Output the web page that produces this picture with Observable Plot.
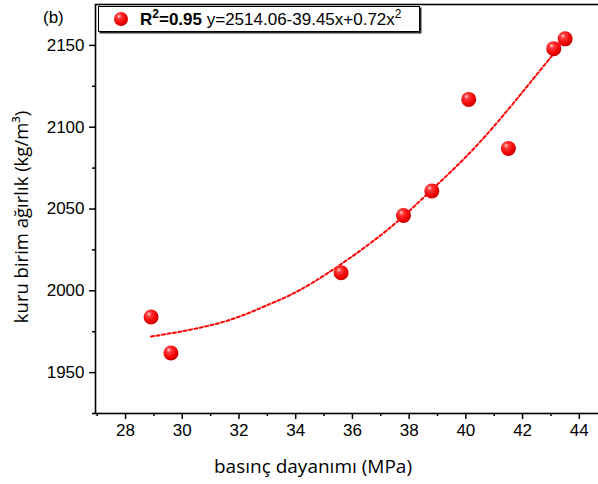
<!DOCTYPE html>
<html>
<head>
<meta charset="utf-8">
<script src="https://cdn.jsdelivr.net/npm/d3@7"></script>
<script src="https://cdn.jsdelivr.net/npm/@observablehq/plot@0.6"></script>
<style>
  html, body { margin: 0; padding: 0; background: #fff; overflow: hidden; }
  #chart svg { display: block; max-width: none !important; }
</style>
</head>
<body>
<div id="chart"></div>
<script>
// Data points
const strength = [28.9, 29.6, 35.6, 37.8, 38.8, 40.1, 41.5, 43.1, 43.5];
const density  = [1984, 1962, 2011, 2046, 2061, 2117, 2087, 2148, 2154];

// Fitted curve
const fitX = [28.9, 31.35, 33.1, 34.6, 37.0, 38.75, 40.5, 42.35, 43.1];
const fitY = [1972, 1980.5, 1992, 2005, 2034, 2061, 2091, 2129, 2145];

// Axes
const xMajor = [28, 30, 32, 34, 36, 38, 40, 42, 44];
const xMinor = [27, 29, 31, 33, 35, 37, 39, 41, 43];
const yMajor = [1950, 2000, 2050, 2100, 2150];
const yMinor = [1925, 1975, 2025, 2075, 2125];

const xLabel = "basınç dayanımı (MPa)";
const yLabel = "kuru birim ağırlık (kg/m³)";
const panelTag = "(b)";
const legendR2 = "0.95";
const legendEq = "y=2514.06-39.45x+0.72x";

const points = strength.map((x, i) => ({x, y: density[i]}));
const fit = fitX.map((x, i) => ({x, y: fitY[i]}));

const plot = Plot.plot({
  width: 610,
  height: 484,
  marginLeft: 95,
  marginRight: 0,
  marginTop: 4,
  marginBottom: 71,
  style: {fontFamily: "'Liberation Sans', Arial, sans-serif", fontSize: "17px", maxWidth: "none", background: "white"},
  x: {domain: [26.94, 45.1]},
  y: {domain: [1925, 2175]},
  marks: [
    Plot.axisX({ticks: xMajor, tickSize: 6, tickPadding: 4, tickFormat: d3.format("d"), label: null, fontSize: 17, strokeWidth: 1.5}),
    Plot.axisX({ticks: xMinor, tickSize: 3, tickFormat: () => "", label: null, strokeWidth: 1.5}),
    Plot.axisY({ticks: yMajor, tickSize: 6, tickPadding: 5, tickFormat: d3.format("d"), label: null, fontSize: 17, strokeWidth: 1.5}),
    Plot.axisY({ticks: yMinor, tickSize: 3, tickFormat: () => "", label: null, strokeWidth: 1.5}),
    Plot.frame({stroke: "black", strokeWidth: 1.6}),
    Plot.line(fit, {x: "x", y: "y", stroke: "#ff0000", strokeWidth: 2, strokeDasharray: "3,2.5", curve: "natural"}),
    Plot.dot(points, {x: "x", y: "y", r: 7.5, fill: "url(#sphere)", stroke: "none"})
  ]
});

document.getElementById("chart").appendChild(plot);
const svg = d3.select(plot);

const defs = svg.insert("defs", ":first-child");
const g = defs.append("radialGradient").attr("id", "sphere")
  .attr("cx", "0.38").attr("cy", "0.35").attr("r", "0.65").attr("fx", "0.35").attr("fy", "0.3");
g.append("stop").attr("offset", "0").attr("stop-color", "#ffd6d6");
g.append("stop").attr("offset", "0.25").attr("stop-color", "#ff3a3a");
g.append("stop").attr("offset", "0.75").attr("stop-color", "#f00000");
g.append("stop").attr("offset", "1").attr("stop-color", "#c80000");

// Panel tag
svg.append("text").attr("x", 43).attr("y", 23)
  .attr("text-anchor", "start")
  .attr("font-family", "'Liberation Sans', Arial, sans-serif").attr("font-size", 17)
  .text(panelTag);

// Axis titles
svg.append("text").attr("x", 313).attr("y", 473)
  .attr("text-anchor", "middle")
  .attr("font-family", "'Open Sans', sans-serif").attr("font-size", 19)
  .text(xLabel);
svg.append("text")
  .attr("transform", "translate(28,217) rotate(-90)")
  .attr("text-anchor", "middle")
  .attr("font-family", "'Open Sans', sans-serif").attr("font-size", 18.5)
  .text(yLabel);

// Legend
const lg = svg.append("g");
lg.append("rect").attr("x", 99.5).attr("y", 7.5).attr("width", 322).attr("height", 26)
  .attr("fill", "#2a2a2a");
lg.append("rect").attr("x", 98.5).attr("y", 6.5).attr("width", 321).attr("height", 25)
  .attr("fill", "white").attr("stroke", "black").attr("stroke-width", 1);
lg.append("circle").attr("cx", 121).attr("cy", 19).attr("r", 7).attr("fill", "url(#sphere)");
const t = lg.append("text").attr("x", 140).attr("y", 25).attr("text-anchor", "start")
  .attr("font-family", "'Liberation Sans', Arial, sans-serif").attr("font-size", 17);
t.append("tspan").attr("font-weight", "bold").text("R");
t.append("tspan").attr("font-weight", "bold").attr("font-size", 12).attr("dy", -7).text("2");
t.append("tspan").attr("font-weight", "bold").attr("dy", 7).text("=" + legendR2);
t.append("tspan").text(" " + legendEq);
t.append("tspan").attr("font-size", 12).attr("dy", -7).text("2");
</script>
</body>
</html>
